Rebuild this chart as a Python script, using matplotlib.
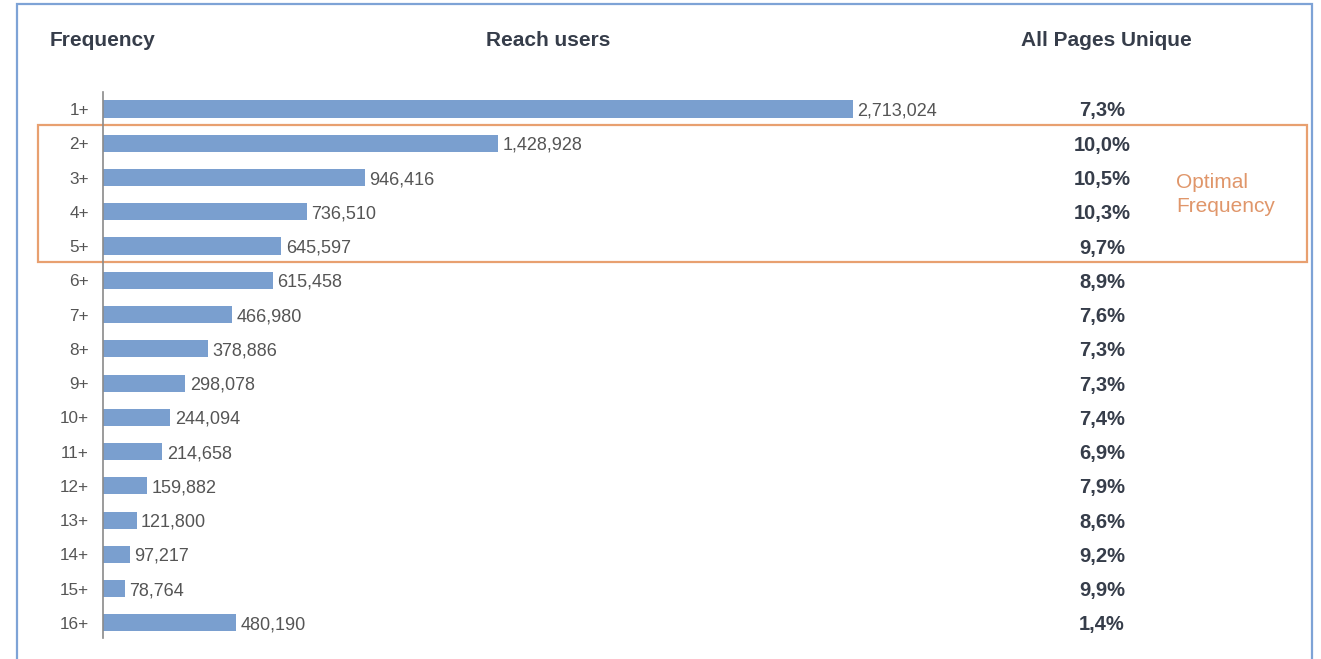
import matplotlib.pyplot as plt
import matplotlib.transforms as mtransforms
from matplotlib.patches import Rectangle

plt.rcParams['font.family'] = ['Liberation Sans', 'DejaVu Sans']

# reach by minimum frequency
freq_labels = ['1+', '2+', '3+', '4+', '5+', '6+', '7+', '8+', '9+', '10+',
               '11+', '12+', '13+', '14+', '15+', '16+']
reach_users = [2713024, 1428928, 946416, 736510, 645597, 615458, 466980,
               378886, 298078, 244094, 214658, 159882, 121800, 97217,
               78764, 480190]
unique_pct = ['7,3%', '10,0%', '10,5%', '10,3%', '9,7%', '8,9%', '7,6%',
              '7,3%', '7,3%', '7,4%', '6,9%', '7,9%', '8,6%', '9,2%',
              '9,9%', '1,4%']
optimal_rows = (1, 4)

W, H = 1321, 659
head_col = '#363d4a'
fig = plt.figure(figsize=(W / 100, H / 100), dpi=100)
fig.patch.set_facecolor('white')

# outer frame
fig.patches.append(Rectangle((17 / W, -0.01), (1312 - 17) / W, 1.01 - 4 / H,
                             transform=fig.transFigure, fill=False,
                             edgecolor='#7ea3d6', linewidth=1.6))

ax = fig.add_axes([103 / W, (H - 638) / H, (1313 - 103) / W, (638 - 92) / H])
ypos = list(range(len(freq_labels)))
ax.barh(ypos, reach_users, height=0.5, color='#7a9fcf', edgecolor='none')
ax.set_xlim(0, 1210 * 3617)
ax.set_ylim(15.44, -0.496)
for s in ['top', 'right', 'bottom']:
    ax.spines[s].set_visible(False)
ax.spines['left'].set_color('#8a8a8a')
ax.spines['left'].set_linewidth(1.2)
ax.set_xticks([])
ax.set_yticks(ypos)
ax.set_yticklabels(freq_labels, fontsize=12.3, color='#555555')
ax.tick_params(axis='y', length=0, pad=10)

for y, v in zip(ypos, reach_users):
    ax.text(v + 16000, y, f'{v:,}', va='center_baseline', ha='left',
            fontsize=13, color='#555555')

# percentage column
trans = mtransforms.blended_transform_factory(fig.transFigure, ax.transData)
for y, p in zip(ypos, unique_pct):
    ax.text(1102 / W, y, p, transform=trans, ha='center',
            va='center_baseline', fontsize=14.5, fontweight='bold',
            color=head_col)

# optimal frequency highlight
y0 = optimal_rows[0] - 0.533
y1 = optimal_rows[1] + 0.46
ax.add_patch(Rectangle((38 / W, y0), (1307 - 38) / W, y1 - y0,
                       transform=trans, fill=False, edgecolor='#e8a070',
                       linewidth=1.6, clip_on=False))
ax.text(1176 / W, 2.5, 'Optimal\nFrequency', transform=trans, ha='left',
        va='center', fontsize=15, color='#e0966a', linespacing=1.3)

# column headers
hy = 1 - 41 / H
fig.text(50 / W, hy, 'Frequency', ha='left', va='center',
         fontsize=15, fontweight='bold', color=head_col)
fig.text(548 / W, hy, 'Reach users', ha='center', va='center',
         fontsize=15, fontweight='bold', color=head_col)
fig.text(1106 / W, hy, 'All Pages Unique', ha='center', va='center',
         fontsize=15, fontweight='bold', color=head_col)

fig.savefig('out.png', dpi=100)
